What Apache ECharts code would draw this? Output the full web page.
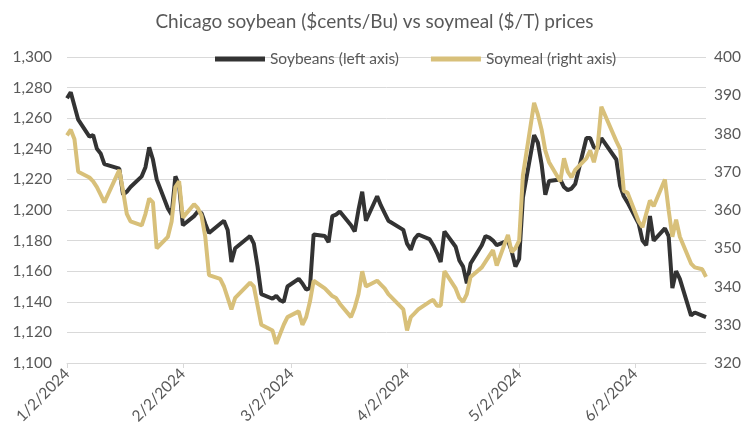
<!DOCTYPE html>
<html>
<head>
<meta charset="utf-8">
<script src="https://cdn.jsdelivr.net/npm/echarts@6/dist/echarts.min.js"></script>
<style>html,body{margin:0;padding:0;background:#fff;}#c{width:749px;height:434px;}</style>
</head>
<body>
<div id="c"></div>
<script>
var year = 2024;
var dates = [
 '1/2','1/3','1/4','1/5','1/8','1/9','1/10','1/11','1/12','1/16','1/17','1/18','1/19','1/22','1/23','1/24','1/25','1/26','1/29','1/30','1/31',
 '2/1','2/2','2/5','2/6','2/7','2/8','2/9','2/12','2/13','2/14','2/15','2/16','2/20','2/21','2/22','2/23','2/26','2/27','2/28','2/29',
 '3/1','3/4','3/5','3/6','3/7','3/8','3/11','3/12','3/13','3/14','3/15','3/18','3/19','3/20','3/21','3/22','3/25','3/26','3/27','3/28',
 '4/1','4/2','4/3','4/4','4/5','4/8','4/9','4/10','4/11','4/12','4/15','4/16','4/17','4/18','4/19','4/22','4/23','4/24','4/25','4/26','4/29','4/30',
 '5/1','5/2','5/3','5/6','5/7','5/8','5/9','5/10','5/13','5/14','5/15','5/16','5/17','5/20','5/21','5/22','5/23','5/24','5/28','5/29','5/30','5/31',
 '6/3','6/4','6/5','6/6','6/7','6/10','6/11','6/12','6/13','6/14','6/17','6/18','6/20','6/21'
];
var soybeans = [
 1273,1277,1268,1259,1248,1249,1240,1237,1230,1227,1210,1212,1215,1222,1228,1241,1233,1220,1201,1197,1222,
 1216,1190,1196,1199,1198,1191,1185,1191,1193,1187,1166,1175,1183,1178,1163,1145,1142,1144,1141,1140,
 1150,1155,1152,1148,1149,1184,1183,1179,1196,1197,1199,1190,1186,1200,1212,1193,1209,1203,1198,1193,
 1187,1178,1174,1181,1184,1181,1177,1172,1166,1186,1176,1167,1163,1152,1165,1177,1183,1182,1180,1177,1180,1173,
 1163,1168,1208,1249,1244,1230,1210,1219,1220,1215,1213,1214,1217,1247,1247,1241,1240,1247,1233,1216,1209,1205,
 1191,1180,1177,1196,1180,1188,1183,1149,1160,1155,1131,1133,1131,1130
];
var soymeal = [
 379.5,381,378.5,370,368.5,367.5,366,364,362,370.5,365,359,357,356,359,363,362,350,353,357,366,
 367.5,358,361.5,360.5,358.5,353,343,342,340,337,334,337,341,340,335,330,328.5,325,327.5,330,
 332,333.5,330,332,336,341.5,339.5,338.5,337.5,337,335.5,332,334.5,338,344,340,341.5,340.5,339.5,338,
 334,328.5,332,333,334,336,336.5,335,335,344,339.5,337,336,338,342.5,345,346.5,348,349.5,345.5,353.5,349,
 350,352,369,388,385,381,375.5,372.5,367.5,373.5,370,368.5,370.5,373.5,375.5,372.5,376.5,387,378,376,365,364.5,
 357,355.5,359,362.5,361,368,360,353,357.5,353,346,345,344.5,342.5
];
var tickLabels = ['1/2/2024','2/2/2024','3/2/2024','4/2/2024','5/2/2024','6/2/2024'];
var axisEnd = '6/21/2024';

// day number counted from the first tick date (an ordinary linear date scale)
function toDay(s) {
  var p = s.split('/');
  var y = p.length > 2 ? +p[2] : year;
  return Math.round((Date.UTC(y, +p[0] - 1, +p[1]) - Date.UTC(year, 0, 2)) / 86400000);
}
var tickDays = tickLabels.map(toDay);
var soyData = dates.map(function (d, i) { return [toDay(d), soybeans[i]]; });
var mealData = dates.map(function (d, i) { return [toDay(d), soymeal[i]]; });

var grey = '#595959';
var font = 'Lato, "Open Sans", sans-serif';
var chart = echarts.init(document.getElementById('c'), null, {renderer: 'canvas'});
chart.setOption({
  backgroundColor: '#fff',
  animation: false,
  textStyle: {fontFamily: font},
  title: {
    text: 'Chicago soybean ($cents/Bu) vs soymeal ($/T) prices',
    left: 'center', top: 7,
    textStyle: {fontSize: 19, fontWeight: 'normal', color: grey, fontFamily: font}
  },
  legend: {
    left: 210, top: 46,
    itemWidth: 50, itemHeight: 5, itemGap: 32,
    icon: 'rect',
    textStyle: {fontSize: 15.5, color: grey, fontFamily: font},
    data: ['Soybeans (left axis)', 'Soymeal (right axis)']
  },
  grid: {left: 67, right: 43, top: 57, bottom: 71},
  xAxis: {
    type: 'value',
    min: tickDays[0], max: toDay(axisEnd),
    axisLine: {show: true, onZero: false, lineStyle: {color: '#d9d9d9'}},
    axisTick: {show: true, length: 5, lineStyle: {color: '#d9d9d9'}, customValues: tickDays},
    splitLine: {show: false},
    axisLabel: {
      customValues: tickDays,
      rotate: 45, fontSize: 15.5, color: grey, margin: 8, fontFamily: font,
      formatter: function (v) {
        var i = tickDays.indexOf(v);
        return i >= 0 ? tickLabels[i] : '';
      }
    }
  },
  yAxis: [{
    type: 'value', min: 1100, max: 1300, interval: 20,
    axisLine: {show: false}, axisTick: {show: false},
    splitLine: {lineStyle: {color: '#d9d9d9', width: 1}},
    axisLabel: {fontSize: 15.5, color: grey, margin: 15, fontFamily: font,
      formatter: function (v) { return v.toLocaleString('en-US'); }}
  }, {
    type: 'value', min: 320, max: 400, interval: 10,
    axisLine: {show: false}, axisTick: {show: false},
    splitLine: {show: false},
    axisLabel: {fontSize: 15.5, color: grey, margin: 8, fontFamily: font}
  }],
  series: [{
    name: 'Soybeans (left axis)', type: 'line', yAxisIndex: 0,
    data: soyData, showSymbol: false, symbol: 'none',
    lineStyle: {color: '#333333', width: 4}, itemStyle: {color: '#333333'}
  }, {
    name: 'Soymeal (right axis)', type: 'line', yAxisIndex: 1,
    data: mealData, showSymbol: false, symbol: 'none',
    lineStyle: {color: '#d8c07a', width: 4}, itemStyle: {color: '#d8c07a'}
  }]
});
</script>
</body>
</html>
